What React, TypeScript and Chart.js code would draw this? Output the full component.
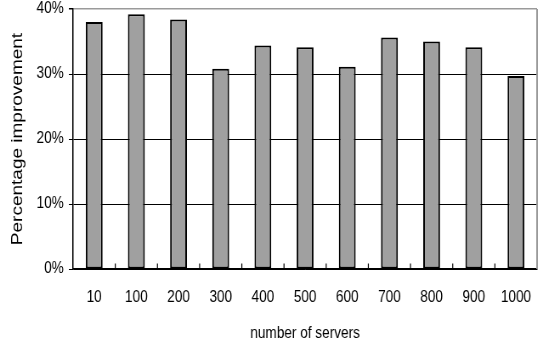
import React, { useEffect, useRef } from "react";
import { Chart, registerables } from "chart.js";

Chart.register(...registerables);

const serverCounts = ["10", "100", "200", "300", "400", "500", "600", "700", "800", "900", "1000"];
const improvementPct = [38.0, 39.2, 38.4, 30.8, 34.4, 34.1, 31.1, 35.6, 35.0, 34.1, 29.7];
const yTickValues = [0, 10, 20, 30, 40];

const FONT = "'Liberation Sans', Arial, sans-serif";

// The chart is laid out on a wider canvas and squeezed horizontally,
// which gives the narrow lettering of the original spreadsheet export.
const VIEW_W = 543;
const VIEW_H = 344;
const CANVAS_W = 639;
const SQUEEZE = VIEW_W / CANVAS_W;

// Draws the grey frame on the right edge and short upward tick marks
// on the category axis between bars.
const framePlugin = {
  id: "frameAndTicks",
  afterDatasetsDraw(chart: any) {
    const { ctx, chartArea, scales } = chart;
    const x = scales.x;
    ctx.save();
    ctx.strokeStyle = "#9a9a9a";
    ctx.lineWidth = 2;
    ctx.beginPath();
    ctx.moveTo(chartArea.right, chartArea.top);
    ctx.lineTo(chartArea.right, chartArea.bottom);
    ctx.stroke();

    ctx.strokeStyle = "#000000";
    ctx.lineWidth = 1.2;
    const n = chart.data.labels.length;
    for (let i = 1; i < n; i++) {
      const px = (x.getPixelForTick(i - 1) + x.getPixelForTick(i)) / 2;
      ctx.beginPath();
      ctx.moveTo(px, chartArea.bottom);
      ctx.lineTo(px, chartArea.bottom - 5.5);
      ctx.stroke();
    }
    ctx.restore();
  },
};

export default function App() {
  const canvasRef = useRef<HTMLCanvasElement>(null);

  useEffect(() => {
    document.body.style.margin = "0";
    const canvas = canvasRef.current;
    if (!canvas) return;
    const chart = new Chart(canvas, {
      type: "bar",
      data: {
        labels: serverCounts,
        datasets: [
          {
            data: improvementPct,
            backgroundColor: "#a0a0a0",
            borderColor: "#000000",
            borderWidth: 2,
            borderSkipped: false,
            barPercentage: 0.4,
            categoryPercentage: 1,
          },
        ],
      },
      options: {
        responsive: false,
        animation: false,
        devicePixelRatio: 1,
        layout: { padding: { top: 9, right: 7, left: 0, bottom: 0 } },
        plugins: {
          legend: { display: false },
          tooltip: { enabled: false },
        },
        scales: {
          x: {
            grid: { display: false, drawTicks: false },
            border: { display: true, color: "#000000", width: 1.5 },
            ticks: {
              color: "#000000",
              font: { family: FONT, size: 16 },
              padding: 19,
            },
            title: {
              display: true,
              text: "number of servers",
              color: "#000000",
              font: { family: FONT, size: 16 },
              padding: { top: 0, bottom: 1 },
            },
            afterFit(scale: any) {
              scale.height = 75;
              scale.paddingLeft = 0;
              scale.paddingRight = 0;
            },
          },
          y: {
            min: 0,
            max: 40,
            afterBuildTicks(scale: any) {
              scale.ticks = yTickValues.map((v) => ({ value: v }));
            },
            grid: {
              color: (ctx: any) => (ctx.tick && ctx.tick.value === 40 ? "#9a9a9a" : "#000000"),
              lineWidth: (ctx: any) => (ctx.tick && ctx.tick.value === 40 ? 1.5 : 1),
              tickColor: "#000000",
              tickLength: 5,
              drawTicks: true,
            },
            border: { display: true, color: "#000000", width: 1.5 },
            ticks: {
              color: "#000000",
              font: { family: FONT, size: 16 },
              padding: 6,
              callback: (v: any) => v + "%",
            },
            title: {
              display: true,
              text: "Percentage improvement",
              color: "#000000",
              font: { family: FONT, size: 19 },
              padding: { top: 9, bottom: 0 },
            },
            afterFit(scale: any) {
              scale.width = 86;
              scale.paddingTop = 0;
              scale.paddingBottom = 0;
            },
          },
        },
      },
      plugins: [framePlugin],
    });
    return () => chart.destroy();
  }, []);

  return (
    <div
      style={{
        position: "absolute",
        left: 0,
        top: 0,
        width: VIEW_W,
        height: VIEW_H,
        overflow: "hidden",
        background: "#ffffff",
      }}
    >
      <div
        style={{
          width: CANVAS_W,
          height: VIEW_H,
          transform: `scaleX(${SQUEEZE})`,
          transformOrigin: "0 0",
        }}
      >
        <canvas ref={canvasRef} width={CANVAS_W} height={VIEW_H} style={{ display: "block" }} />
      </div>
    </div>
  );
}
